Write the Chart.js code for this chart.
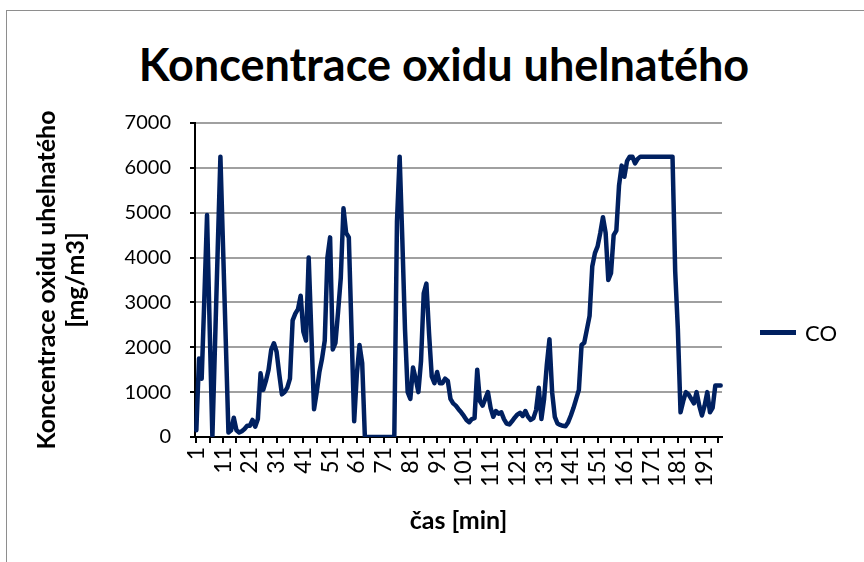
<!DOCTYPE html>
<html lang="cs">
<head>
<meta charset="UTF-8">
<title>Koncentrace oxidu uhelnatého</title>
<script src="https://cdn.jsdelivr.net/npm/chart.js"></script>
<style>
    html, body { margin: 0; padding: 0; background: #fff; }
    body { width: 864px; height: 562px; overflow: hidden; position: relative; font-family: Lato, sans-serif; }
    .frame { position: absolute; left: 6px; top: 10px; width: 900px; height: 600px; border: 1px solid #8e8e8e; }
    .chart-title { position: absolute; left: 0; width: 888px; top: 41px; text-align: center;
        font-size: 45px; font-weight: bold; line-height: 46px; color: #000; }
    #coChart { position: absolute; left: 0; top: 0; }
    .legend { position: absolute; left: 760px; top: 318px; height: 28px; display: flex; align-items: center;
        font-size: 22px; color: #000; }
    .legend .swatch { width: 36px; height: 5px; background: #002060; margin-right: 9px; }
</style>
</head>
<body>
<div class="frame"></div>
<div class="chart-title">Koncentrace oxidu uhelnatého</div>
<canvas id="coChart" width="864" height="562"></canvas>
<div class="legend"><span class="swatch"></span><span>CO</span></div>

<script>
    // CO concentration [mg/m3], one value per minute
    const coValues = [
        150, 1750, 1300, 3100, 4950, 2400, 0, 2100, 4200, 6250,
        4200, 2150, 100, 150, 430, 150, 100, 130, 180, 250,
        250, 380, 230, 400, 1420, 1050, 1250, 1500, 1950, 2090,
        1900, 1400, 950, 1000, 1100, 1300, 2600, 2750, 2850, 3150,
        2350, 2150, 4000, 2300, 620, 1000, 1450, 1750, 2150, 4000,
        4450, 1950, 2100, 2800, 3550, 5100, 4550, 4450, 2400, 350,
        1400, 2050, 1650, 0, 0, 0, 0, 0, 0, 0,
        0, 0, 0, 0, 0, 4800, 6250, 4400, 2400, 1000,
        850, 1550, 1300, 1000, 1700, 3200, 3420, 2300, 1350, 1200,
        1450, 1200, 1200, 1300, 1250, 850, 750, 700, 620, 550,
        470, 380, 330, 400, 420, 1500, 800, 700, 850, 1000,
        650, 450, 580, 520, 550, 400, 300, 280, 350, 430,
        500, 540, 470, 580, 450, 380, 420, 600, 1100, 400,
        850, 1600, 2180, 1000, 450, 300, 270, 250, 240, 330,
        480, 650, 850, 1050, 2050, 2100, 2400, 2700, 3800, 4100,
        4250, 4550, 4900, 4550, 3500, 3650, 4500, 4600, 5600, 6050,
        5800, 6150, 6250, 6250, 6100, 6200, 6250, 6250, 6250, 6250,
        6250, 6250, 6250, 6250, 6250, 6250, 6250, 6250, 6250, 3700,
        2400, 550, 800, 1000, 950, 850, 750, 1000, 700, 480,
        700, 1000, 550, 650, 1150, 1150, 1150
    ];
    // minutes 1..197 on the category axis
    const minutes = coValues.map((v, i) => String(i + 1));
    const yTitle = ['Koncentrace oxidu uhelnatého', '[mg/m3]'];
    const xTitle = 'čas [min]';

    const ctx = document.getElementById('coChart').getContext('2d');
    new Chart(ctx, {
        type: 'line',
        data: {
            labels: minutes,
            datasets: [{
                label: 'CO',
                data: coValues,
                borderColor: '#002060',
                backgroundColor: '#002060',
                borderWidth: 4.5,
                borderJoinStyle: 'round',
                borderCapStyle: 'round',
                pointRadius: 0,
                tension: 0,
                fill: false
            }]
        },
        options: {
            responsive: false,
            animation: false,
            layout: { padding: { left: 26, right: 142, top: 123, bottom: 22 } },
            plugins: {
                legend: { display: false },
                title: { display: false },
                tooltip: { enabled: false }
            },
            scales: {
                x: {
                    offset: true,
                    grid: {
                        drawOnChartArea: false,
                        offset: false,
                        tickLength: 6,
                        lineWidth: 2,
                        tickColor: c => (c.index % 5 === 0 ? '#000' : 'rgba(0,0,0,0)')
                    },
                    border: { color: '#000', width: 2 },
                    ticks: {
                        autoSkip: false,
                        minRotation: 90,
                        maxRotation: 90,
                        padding: 4,
                        color: '#000',
                        font: { family: 'Lato', size: 23 },
                        callback: function (val, index) {
                            return index % 10 === 0 ? this.getLabelForValue(val) : '';
                        }
                    },
                    title: {
                        display: true,
                        text: xTitle,
                        color: '#000',
                        font: { family: 'Lato', size: 25, weight: 'bold', lineHeight: 1.2 },
                        padding: { top: 4, bottom: 4 }
                    },
                    afterFit: s => { s.height = 103; }
                },
                y: {
                    min: 0,
                    max: 7000,
                    ticks: {
                        stepSize: 1000,
                        padding: 19,
                        color: '#000',
                        font: { family: 'Lato', size: 20 },
                        callback: v => String(v)
                    },
                    grid: {
                        color: c => (c.tick && c.tick.value === 0 ? '#000' : '#a0a0a0'),
                        lineWidth: 2,
                        tickColor: '#000',
                        tickLength: 5
                    },
                    border: { color: '#000', width: 2 },
                    title: {
                        display: true,
                        text: yTitle,
                        color: '#000',
                        font: { family: 'Lato', size: 25, weight: 'bold', lineHeight: 1.15 },
                        padding: { top: 7, bottom: 0 }
                    },
                    afterFit: s => { s.width = 195 - 26; }
                }
            }
        }
    });
</script>
</body>
</html>
